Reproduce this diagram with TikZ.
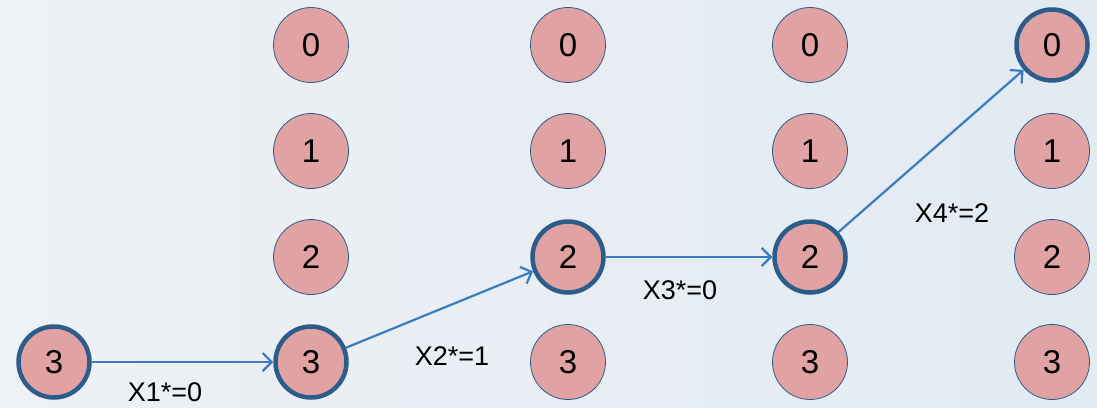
\documentclass[tikz,border=0pt]{standalone}
\usepackage{fontspec}
\setmainfont{Liberation Sans}
\usetikzlibrary{arrows.meta}
\definecolor{bgc}{RGB}{226,234,242}
\definecolor{bgl}{RGB}{238,241,245}
\definecolor{nodefill}{RGB}{224,162,162}
\definecolor{rim}{RGB}{44,92,138}
\definecolor{arr}{RGB}{58,124,192}
\tikzset{
  st/.style={circle, draw=rim, line width=0.8pt, fill=nodefill, minimum size=75pt, inner sep=0pt, font=\fontsize{33}{33}\selectfont},
  chosen/.style={line width=4.5pt, minimum size=71pt},
  link/.style={draw=arr, line width=2.2pt, -{Straight Barb[length=9pt,width=18pt,line width=2.2pt]}},
  lab/.style={font=\fontsize{27}{27}\selectfont, inner sep=0pt}
}
\begin{document}
\begin{tikzpicture}[x=1pt,y=-1pt]
\useasboundingbox (0,0) rectangle (1097,407);
\shade[left color=bgl, middle color=bgc, right color=bgc] (0,0) rectangle (1097,407);
% column 0
\node[st,chosen] (a3) at (54,362) {3};
% column 1
\node[st] (b0) at (311,45) {0};
\node[st] (b1) at (311,151) {1};
\node[st] (b2) at (311,257) {2};
\node[st,chosen] (b3) at (311,362) {3};
% column 2
\node[st] (c0) at (568,45) {0};
\node[st] (c1) at (568,151) {1};
\node[st,chosen] (c2) at (568,257) {2};
\node[st] (c3) at (568,362) {3};
% column 3
\node[st] (d0) at (810,45) {0};
\node[st] (d1) at (810,151) {1};
\node[st,chosen] (d2) at (810,257) {2};
\node[st] (d3) at (810,362) {3};
% column 4
\node[st,chosen] (e0) at (1052,45) {0};
\node[st] (e1) at (1052,151) {1};
\node[st] (e2) at (1052,257) {2};
\node[st] (e3) at (1052,362) {3};
% links
\draw[link] (a3) -- (b3);
\draw[link] (b3) -- (c2);
\draw[link] (c2) -- (d2);
\draw[link] (d2) -- (e0);
% labels
\node[lab] (l1) at (165,392) {X1*=0};
\node[lab] (l2) at (452,356) {X2*=1};
\node[lab] (l3) at (680,290) {X3*=0};
\node[lab] (l4) at (952,213) {X4*=2};
\end{tikzpicture}
\end{document}
